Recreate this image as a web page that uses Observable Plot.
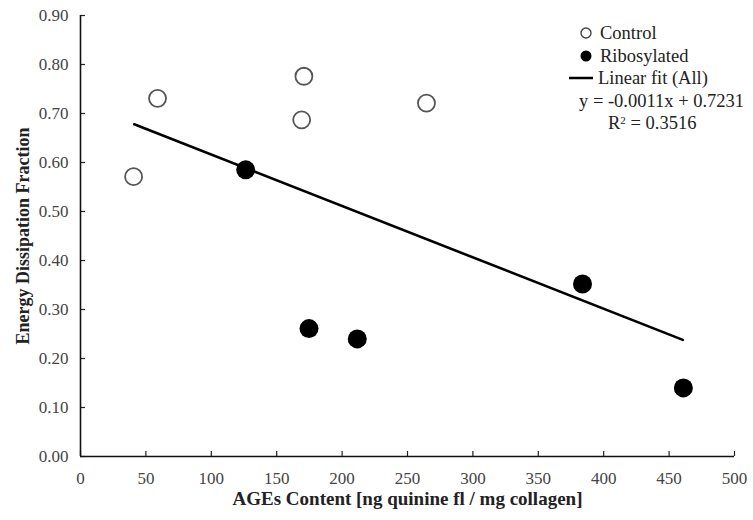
<!DOCTYPE html>
<html>
<head>
<meta charset="utf-8">
<script src="https://cdn.jsdelivr.net/npm/d3@7"></script>
<script src="https://cdn.jsdelivr.net/npm/@observablehq/plot@0.6"></script>
<style>
  body { margin: 0; background: #fff; }
  #wrap { position: relative; width: 753px; height: 520px; font-family: "Liberation Serif", "DejaVu Serif", serif; }
  #wrap svg text { font-family: "Liberation Serif", "DejaVu Serif", serif; }
  #legend { position: absolute; left: 579px; top: 22px; font-size: 18.5px; line-height: 22.5px; color: #222; }
  #legend .row { display: flex; align-items: center; height: 22.5px; white-space: nowrap; }
  #legend svg { margin-right: 7px; }
</style>
</head>
<body>
<div id="wrap"><div id="legend"></div></div>
<script>
// Data
const controlX = [40.6, 58.9, 169.1, 170.8, 264.5];
const controlY = [0.571, 0.731, 0.687, 0.776, 0.721];
const riboX = [126.3, 174.7, 211.6, 383.8, 460.9];
const riboY = [0.585, 0.261, 0.240, 0.352, 0.140];
const fitX = [41.1, 460.5];
const fitY = [0.678, 0.238];
const xTicks = [0, 50, 100, 150, 200, 250, 300, 350, 400, 450, 500];
const yTicks = [0, 0.1, 0.2, 0.3, 0.4, 0.5, 0.6, 0.7, 0.8, 0.9];
const xTitle = "AGEs Content [ng quinine fl / mg collagen]";
const yTitle = "Energy Dissipation Fraction";
const legendLabels = ["Control", "Ribosylated", "Linear fit (All)"];
const eqText = "y = -0.0011x + 0.7231";
const r2Value = "0.3516";

const control = controlX.map((x, i) => ({x, y: controlY[i]}));
const ribo = riboX.map((x, i) => ({x, y: riboY[i]}));
const fit = fitX.map((x, i) => ({x, y: fitY[i]}));

const font = '"Liberation Serif", "DejaVu Serif", serif';
const W = 753, H = 520, mL = 80, mR = 19, mT = 15, mB = 64;
const tickLen = 5;

const chart = Plot.plot({
  width: W,
  height: H,
  marginLeft: mL,
  marginRight: mR,
  marginTop: mT,
  marginBottom: mB,
  style: {fontFamily: font, fontSize: "17px", background: "white", overflow: "visible"},
  x: {domain: [0, 500]},
  y: {domain: [0, 0.9]},
  marks: [
    Plot.axisX({ticks: xTicks, tickSize: 0, tickPadding: 15, label: null, fill: "#444", tickFormat: d3.format("d")}),
    Plot.axisY({ticks: yTicks, tickSize: 0, tickPadding: 12, label: null, fill: "#444", tickFormat: d3.format(".2f")}),
    // inward tick marks
    Plot.ruleX(xTicks, {x: d => d, insetTop: (H - mT - mB) - tickLen, stroke: "#222", strokeWidth: 1.2}),
    Plot.ruleY(yTicks, {y: d => d, insetRight: (W - mL - mR) - tickLen, stroke: "#222", strokeWidth: 1.2}),
    Plot.ruleX([0], {stroke: "#111", strokeWidth: 1.6}),
    Plot.ruleY([0], {stroke: "#111", strokeWidth: 1.6}),
    Plot.line(fit, {x: "x", y: "y", stroke: "#000", strokeWidth: 2.6}),
    Plot.dot(control, {x: "x", y: "y", r: 8.5, stroke: "#555", strokeWidth: 1.8, fill: "white"}),
    Plot.dot(ribo, {x: "x", y: "y", r: 9.5, fill: "#000", stroke: "none"}),
    Plot.text([xTitle], {text: d => d, frameAnchor: "bottom", textAnchor: "middle", dy: 48, fontWeight: "bold", fontSize: 19, fill: "#222"}),
    Plot.text([yTitle], {text: d => d, frameAnchor: "left", textAnchor: "middle", dx: -57, rotate: -90, fontWeight: "bold", fontSize: 18, fill: "#222"})
  ]
});
document.getElementById("wrap").prepend(chart);

const legend = document.getElementById("legend");
const sym = [
  '<svg width="14" height="14"><circle cx="7" cy="7" r="5" fill="white" stroke="#444" stroke-width="1.4"/></svg>',
  '<svg width="14" height="14"><circle cx="7" cy="7" r="5.5" fill="#000"/></svg>',
  '<svg width="24" height="6" style="margin-left:-10px;margin-right:5px"><line x1="0" y1="3" x2="24" y2="3" stroke="#000" stroke-width="2.5"/></svg>'
];
legendLabels.forEach((lab, i) => {
  const row = document.createElement("div");
  row.className = "row";
  row.innerHTML = sym[i] + "<span>" + lab + "</span>";
  legend.appendChild(row);
});
const eq = document.createElement("div");
eq.className = "row";
eq.textContent = eqText;
legend.appendChild(eq);
const r2 = document.createElement("div");
r2.className = "row";
r2.style.marginLeft = "29px";
r2.innerHTML = "R<sup style='font-size:11px;position:relative;top:-3px'>2</sup>&nbsp;= " + r2Value;
legend.appendChild(r2);
</script>
</body>
</html>
